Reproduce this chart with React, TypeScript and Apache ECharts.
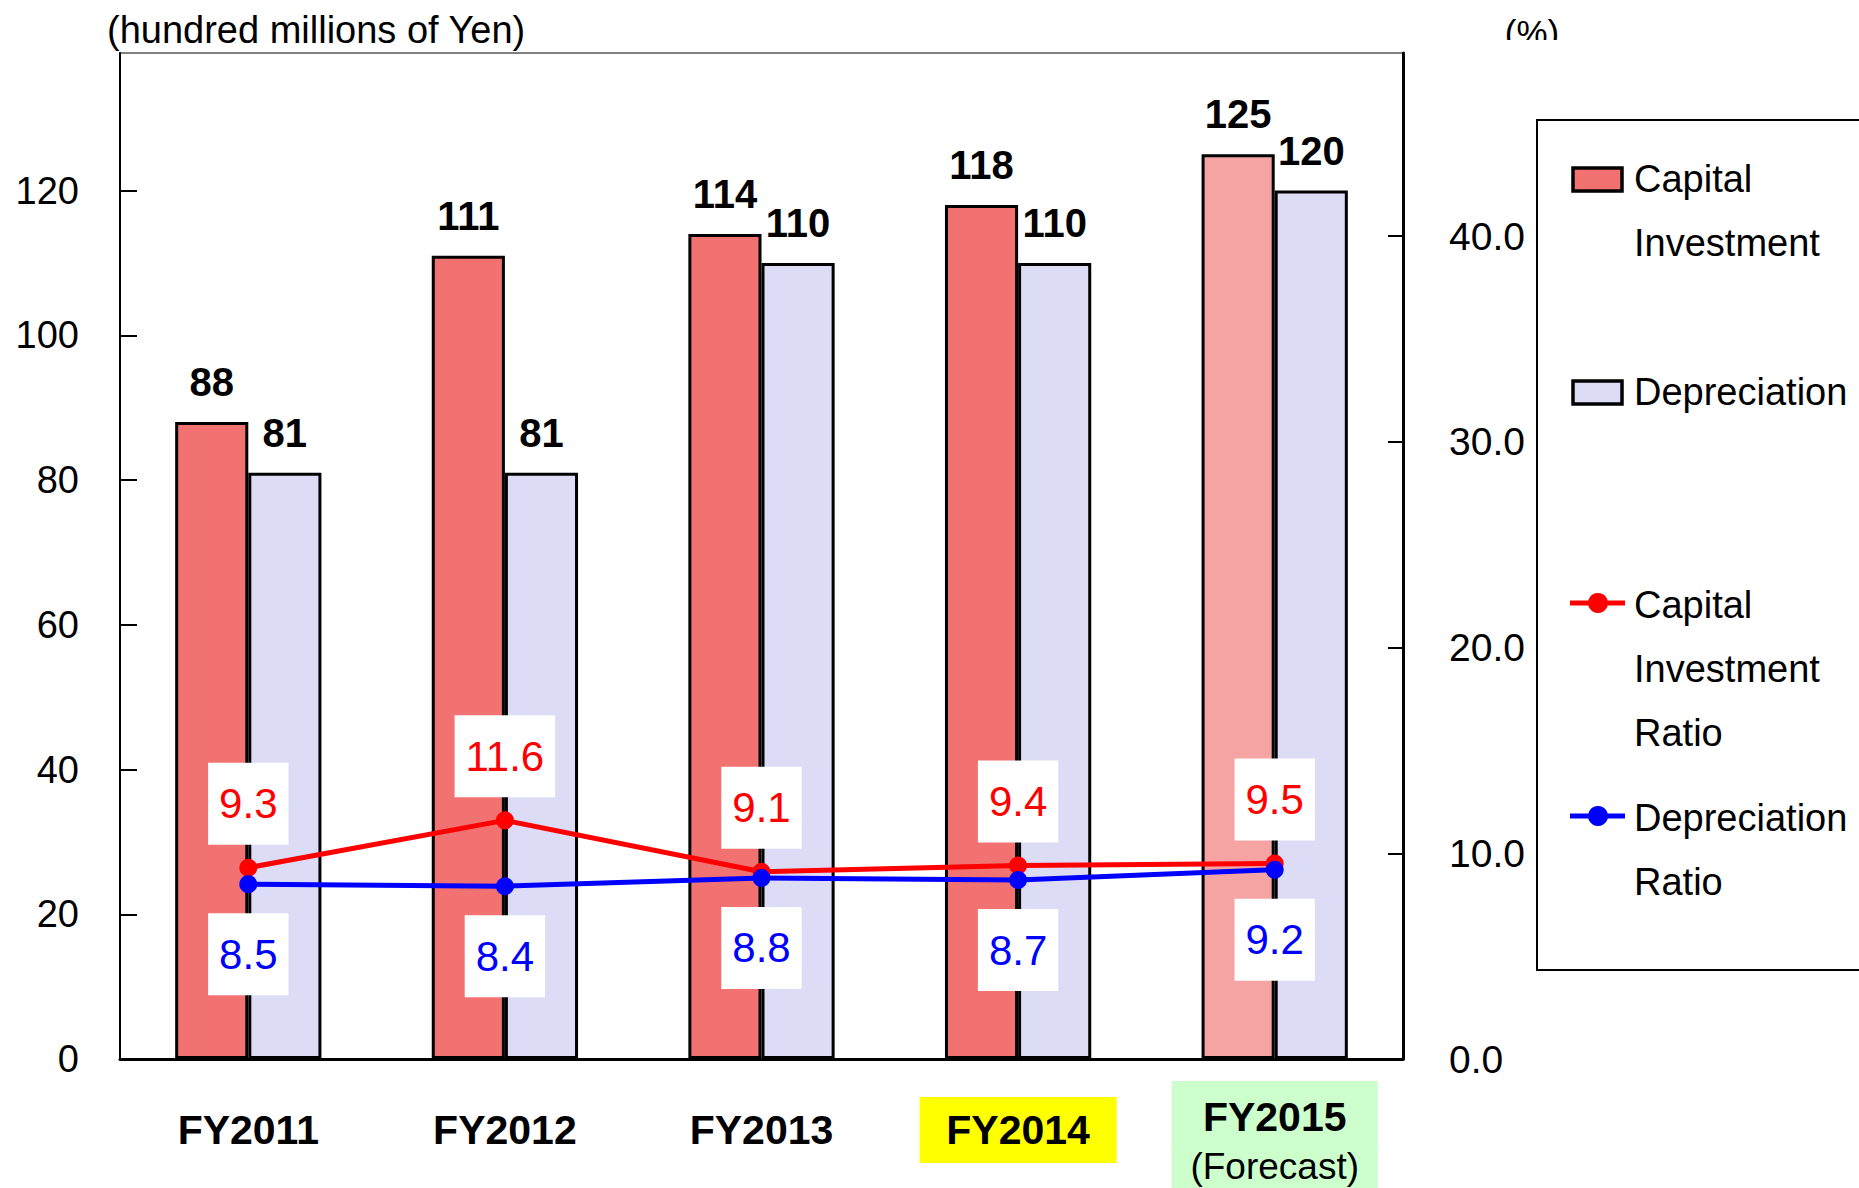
import React, { useEffect, useRef } from "react";
import * as echarts from "echarts";

const categories = ["FY2011", "FY2012", "FY2013", "FY2014", "FY2015"];
const forecastNote = "(Forecast)";
const capitalInvestment = [88, 111, 114, 118, 125];
const depreciation = [81, 81, 110, 110, 120];
const capitalInvestmentRatio = [9.3, 11.6, 9.1, 9.4, 9.5];
const depreciationRatio = [8.5, 8.4, 8.8, 8.7, 9.2];
const leftAxisTitle = "(hundred millions of Yen)";
const rightAxisTitle = "(%)";
const legendCapital = ["Capital", "Investment"];
const legendDepreciation = ["Depreciation"];
const legendCapitalRatio = ["Capital", "Investment", "Ratio"];
const legendDepreciationRatio = ["Depreciation", "Ratio"];

const FONT = "'Liberation Sans', Arial, sans-serif";
const RED_FILL = "#F27272";
const RED_FILL_FORECAST = "#F5A3A3";
const BLUE_FILL = "#DCDCF7";

export default function App() {
  const ref = useRef<HTMLDivElement>(null);

  useEffect(() => {
    if (!ref.current) return;
    const chart = echarts.init(ref.current, null, { renderer: "svg" });

    const legendText = (lines: string[], x: number, y0: number) =>
      lines.map((t, i) => ({
        type: "text",
        x,
        y: y0 + i * 64,
        style: { text: t, fill: "#000", font: `38px ${FONT}`, textAlign: "left", textVerticalAlign: "middle" },
      }));

    const barIcon = (y: number, fill: string) => ({
      type: "rect",
      shape: { x: 1573, y: y - 11, width: 49, height: 23 },
      style: { fill, stroke: "#000", lineWidth: 3.5 },
    });
    const lineIcon = (y: number, color: string) => [
      { type: "line", shape: { x1: 1570, y1: y, x2: 1625, y2: y }, style: { stroke: color, lineWidth: 5 } },
      { type: "circle", shape: { cx: 1598, cy: y, r: 10 }, style: { fill: color } },
    ];

    const barLabel = {
      show: true,
      position: "top",
      distance: 20,
      fontSize: 40,
      lineHeight: 40,
      fontWeight: "bold",
      color: "#000",
      fontFamily: FONT,
    };

    const option: any = {
      animation: false,
      backgroundColor: "#fff",
      textStyle: { fontFamily: FONT },
      grid: {
        left: 120,
        right: 456,
        top: 53,
        bottom: 127,
        show: true,
        borderColor: "#808080",
        borderWidth: 2,
        containLabel: false,
      },
      xAxis: {
        type: "category",
        data: categories,
        axisLine: { lineStyle: { color: "#000", width: 3 } },
        axisTick: { inside: true, length: 14, lineStyle: { color: "#000", width: 2 } },
        axisLabel: {
          margin: 71,
          verticalAlign: "middle",
          formatter: (v: string, i: number) => {
            if (i === 3) return `{y|${v}}`;
            if (i === 4) return `{g1|${v}}\n{g2|${forecastNote}}`;
            return `{n|${v}}`;
          },
          rich: {
            n: { fontSize: 41, fontWeight: "bold", color: "#000", lineHeight: 66, fontFamily: FONT },
            y: {
              fontSize: 41,
              fontWeight: "bold",
              color: "#000",
              lineHeight: 66,
              height: 66,
              width: 197,
              align: "center",
              backgroundColor: "#FFFF00",
              fontFamily: FONT,
            },
            g1: {
              fontSize: 41,
              fontWeight: "bold",
              color: "#000",
              lineHeight: 72,
              height: 72,
              width: 206,
              align: "center",
              backgroundColor: "#CCFFCC",
              fontFamily: FONT,
            },
            g2: {
              fontSize: 37,
              color: "#000",
              lineHeight: 26,
              height: 44,
              width: 206,
              align: "center",
              backgroundColor: "#CCFFCC",
              fontFamily: FONT,
            },
          },
        },
        splitLine: { show: false },
      },
      yAxis: [
        {
          type: "value",
          min: 0,
          max: 139,
          interval: 20,
          axisLine: { show: true, lineStyle: { color: "#000", width: 2 } },
          axisTick: { show: true, inside: true, length: 17, lineStyle: { color: "#000", width: 2 } },
          axisLabel: {
            margin: 41,
            fontSize: 38,
            color: "#000",
            fontFamily: FONT,
            showMaxLabel: false,
            formatter: (v: number) => (v % 20 === 0 ? String(v) : ""),
          },
          splitLine: { show: false },
        },
        {
          type: "value",
          min: 0,
          max: 48.9,
          interval: 10,
          position: "right",
          axisLine: { show: true, lineStyle: { color: "#000", width: 3 } },
          axisTick: { show: true, inside: true, length: 15, lineStyle: { color: "#000", width: 2 } },
          axisLabel: {
            margin: 46,
            fontSize: 39,
            color: "#000",
            fontFamily: FONT,
            showMaxLabel: false,
            formatter: (v: number) => (Math.abs(v % 10) < 1e-9 ? v.toFixed(1) : ""),
          },
          splitLine: { show: false },
        },
      ],
      series: [
        {
          name: "Capital Investment",
          type: "bar",
          yAxisIndex: 0,
          barGap: "0%",
          barCategoryGap: "43%",
          data: capitalInvestment.map((v, i) => ({
            value: v,
            itemStyle: { color: i === 4 ? RED_FILL_FORECAST : RED_FILL },
          })),
          itemStyle: { borderColor: "#000", borderWidth: 3 },
          label: barLabel,
          z: 2,
        },
        {
          name: "Depreciation",
          type: "bar",
          yAxisIndex: 0,
          data: depreciation,
          itemStyle: { color: BLUE_FILL, borderColor: "#000", borderWidth: 3 },
          label: barLabel,
          z: 2,
        },
        {
          name: "Capital Investment Ratio",
          type: "line",
          yAxisIndex: 1,
          data: capitalInvestmentRatio,
          symbol: "circle",
          symbolSize: 18,
          lineStyle: { color: "#FF0000", width: 5 },
          itemStyle: { color: "#FF0000" },
          label: {
            show: true,
            position: "top",
            distance: 14,
            fontSize: 42,
            lineHeight: 42,
            color: "#FF0000",
            backgroundColor: "#fff",
            padding: [20, 11, 20, 11],
            fontFamily: FONT,
            formatter: (p: any) => p.value.toFixed(1),
          },
          z: 5,
        },
        {
          name: "Depreciation Ratio",
          type: "line",
          yAxisIndex: 1,
          data: depreciationRatio,
          symbol: "circle",
          symbolSize: 18,
          lineStyle: { color: "#0000FF", width: 5 },
          itemStyle: { color: "#0000FF" },
          label: {
            show: true,
            position: "bottom",
            distance: 20,
            fontSize: 42,
            lineHeight: 42,
            color: "#0000FF",
            backgroundColor: "#fff",
            padding: [20, 11, 20, 11],
            fontFamily: FONT,
            formatter: (p: any) => p.value.toFixed(1),
          },
          z: 6,
        },
      ],
      graphic: [
        {
          type: "text",
          x: 107,
          y: 30,
          style: { text: leftAxisTitle, fill: "#000", font: `38px ${FONT}`, textAlign: "left", textVerticalAlign: "middle" },
        },
        {
          type: "text",
          x: 1532,
          y: 32,
          style: { text: rightAxisTitle, fill: "#000", font: `35px ${FONT}`, textAlign: "center", textVerticalAlign: "middle" },
          z: 1,
        },
        {
          type: "rect",
          shape: { x: 1480, y: 40, width: 110, height: 12 },
          style: { fill: "#fff" },
          z: 2,
        },
        {
          type: "rect",
          shape: { x: 1537, y: 120, width: 400, height: 850 },
          style: { fill: "none", stroke: "#000", lineWidth: 2 },
        },
        barIcon(179, RED_FILL),
        ...legendText(legendCapital, 1634, 179),
        barIcon(392, BLUE_FILL),
        ...legendText(legendDepreciation, 1634, 392),
        ...lineIcon(603, "#FF0000"),
        ...legendText(legendCapitalRatio, 1634, 605),
        ...lineIcon(816, "#0000FF"),
        ...legendText(legendDepreciationRatio, 1634, 818),
      ],
    };

    chart.setOption(option);
    return () => chart.dispose();
  }, []);

  return (
    <div
      ref={ref}
      style={{ position: "fixed", left: 0, top: 0, width: 1859, height: 1188, background: "#fff" }}
    />
  );
}
